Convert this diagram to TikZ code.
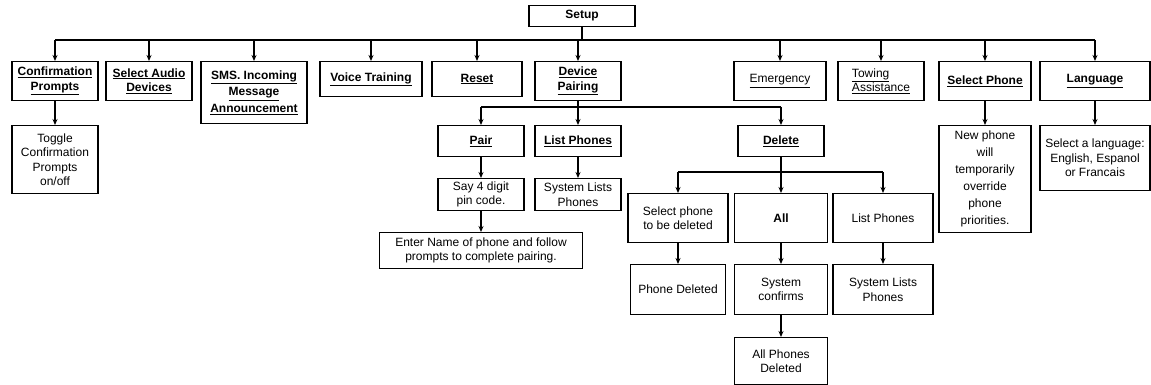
\documentclass[tikz,border=0pt]{standalone}
\usepackage{fontspec}
\setmainfont{Liberation Sans}
\usetikzlibrary{arrows.meta,positioning}

\newcommand{\hd}[1]{\underline{#1}}

\begin{document}
\begin{tikzpicture}[
    x=1pt, y=-1pt,
    menu/.style={rectangle, draw, line width=1.1pt, anchor=north,
        align=center, inner sep=2pt, font=\fontsize{12}{14.5}\selectfont},
    head/.style={menu, font=\fontsize{12}{14.5}\selectfont\bfseries},
    link/.style={line width=1.1pt},
    >={Stealth[length=6pt,width=5pt]}
]
\useasboundingbox (0,0) rectangle (1151,385);

% top level
\node[head, minimum width=106, minimum height=21] (setup) at (582,5) {Setup};

\node[head, minimum width=86, minimum height=39] (conf) at (55,61) {\hd{Confirmation}\\\hd{Prompts}};
\node[head, minimum width=86, minimum height=39] (audio) at (149,61) {\hd{Select Audio}\\\hd{Devices}};
\node[head, minimum width=106, minimum height=62, font=\fontsize{12}{16.5}\selectfont\bfseries] (sms) at (254,61) {\hd{SMS. Incoming}\\\hd{Message}\\\hd{Announcement}};
\node[head, minimum width=102, minimum height=35] (voice) at (371,61) {\hd{Voice Training}};
\node[head, minimum width=90, minimum height=35] (reset) at (477,61) {\hd{Reset}};
\node[head, minimum width=86, minimum height=39] (pairing) at (578,61) {\hd{Device}\\\hd{Pairing}};
\node[menu, minimum width=92, minimum height=39] (emerg) at (780,61) {\hd{Emergency}};
\node[menu, minimum width=86, minimum height=39, align=left] (towing) at (881,61) {\hd{Towing}\\\hd{Assistance}};
\node[head, minimum width=92, minimum height=39] (selphone) at (985,61) {\hd{Select Phone}};
\node[head, minimum width=110, minimum height=39] (lang) at (1095,61) {\hd{Language}};

\coordinate (bus) at (0,40);
\draw[link] (setup.south) -- (setup.south |- bus);
\draw[link] (conf.north |- bus) -- (lang.north |- bus);
\foreach \n in {conf,audio,sms,voice,reset,pairing,emerg,towing,selphone,lang}
    \draw[link,->] (\n.north |- bus) -- (\n.north);

% second level
\node[menu, minimum width=86, minimum height=68] (toggle) at (55,125) {Toggle\\Confirmation\\Prompts\\on/off};
\node[head, minimum width=86, minimum height=31] (pair) at (481,125) {\hd{Pair}};
\node[head, minimum width=86, minimum height=31] (listph) at (578,125) {\hd{List Phones}};
\node[head, minimum width=86, minimum height=31] (delete) at (781,125) {\hd{Delete}};
\node[menu, minimum width=92, minimum height=107, font=\fontsize{12}{17}\selectfont] (newphone) at (985,125) {New phone\\will\\temporarily\\override\\phone\\priorities.};
\node[menu, minimum width=110, minimum height=65] (langsel) at (1095,125) {Select a language:\\English, Espanol\\or Francais};

\draw[link,->] (conf) -- (toggle);
\draw[link,->] (selphone) -- (newphone);
\draw[link,->] (lang) -- (langsel);

\coordinate (pbus) at (0,107);
\draw[link] (pairing.south) -- (pairing.south |- pbus);
\draw[link] (pair.north |- pbus) -- (delete.north |- pbus);
\foreach \n in {pair,listph,delete}
    \draw[link,->] (\n.north |- pbus) -- (\n.north);

% pairing branch
\node[menu, minimum width=86, minimum height=32] (pin) at (481,178) {Say 4 digit\\pin code.};
\node[menu, minimum width=86, minimum height=32] (sysph) at (578,178) {System Lists\\Phones};
\node[menu, minimum width=203, minimum height=36] (enter) at (481,232) {Enter Name of phone and follow\\prompts to complete pairing.};

\draw[link,->] (pair) -- (pin);
\draw[link,->] (listph) -- (sysph);
\draw[link,->] (pin) -- (enter);

% delete branch
\node[menu, minimum width=100, minimum height=49] (seldel) at (678,193) {Select phone\\to be deleted};
\node[head, minimum width=93, minimum height=49] (all) at (781,193) {All};
\node[menu, minimum width=100, minimum height=49] (listdel) at (883,193) {List Phones};

\coordinate (dbus) at (0,172);
\draw[link] (delete.south) -- (delete.south |- dbus);
\draw[link] (seldel.north |- dbus) -- (listdel.north |- dbus);
\foreach \n in {seldel,all,listdel}
    \draw[link,->] (\n.north |- dbus) -- (\n.north);

\node[menu, minimum width=95, minimum height=50] (deleted) at (678,264) {Phone Deleted};
\node[menu, minimum width=93, minimum height=50] (confirms) at (781,264) {System\\confirms};
\node[menu, minimum width=100, minimum height=50] (sysdel) at (883,264) {System Lists\\Phones};
\node[menu, minimum width=93, minimum height=47] (alldel) at (781,337) {All Phones\\Deleted};

\draw[link,->] (seldel) -- (deleted);
\draw[link,->] (all) -- (confirms);
\draw[link,->] (listdel) -- (sysdel);
\draw[link,->] (confirms) -- (alldel);
\end{tikzpicture}
\end{document}
